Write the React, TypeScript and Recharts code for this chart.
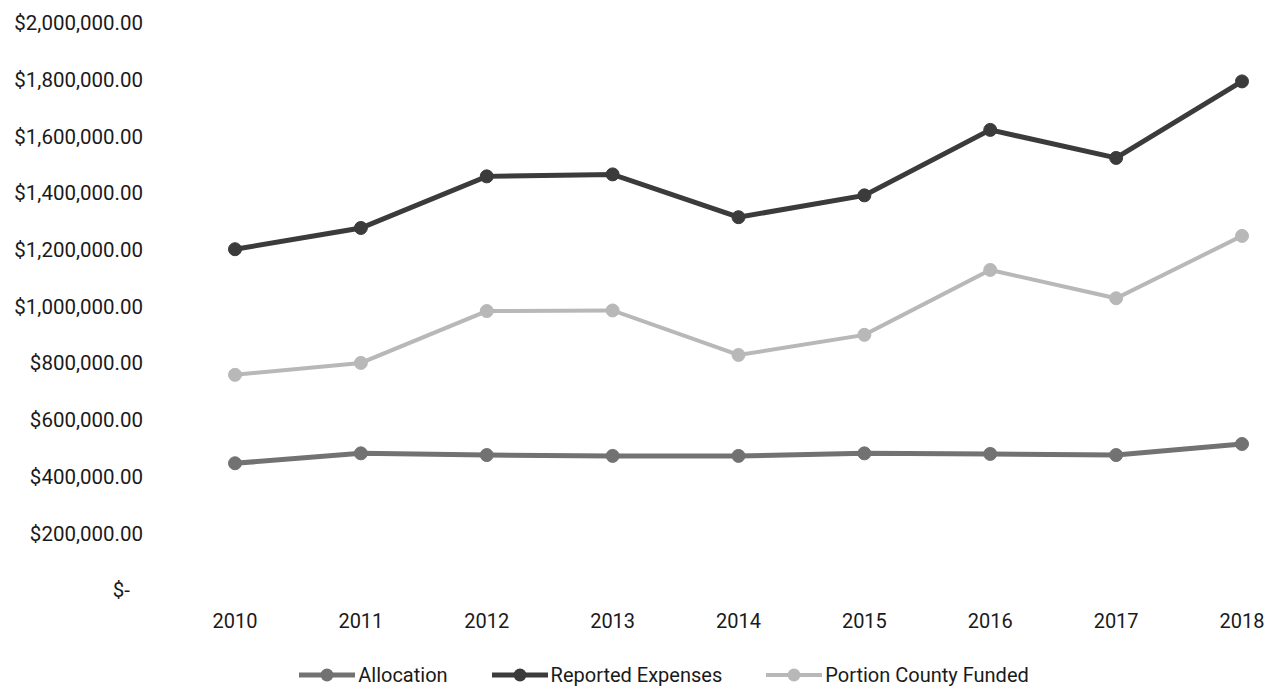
import { LineChart, Line, XAxis, YAxis, Legend } from 'recharts'

const years = ['2010', '2011', '2012', '2013', '2014', '2015', '2016', '2017', '2018']
const allocation = [447000, 482000, 476000, 473000, 473000, 482000, 480000, 476000, 515000]
const reportedExpenses = [1202000, 1277000, 1459000, 1466000, 1315000, 1392000, 1623000, 1524000, 1794000]
const portionCountyFunded = [759000, 801000, 984000, 986000, 829000, 900000, 1129000, 1029000, 1249000]
const yTicks = [0, 200000, 400000, 600000, 800000, 1000000, 1200000, 1400000, 1600000, 1800000, 2000000]

const FONT = 'Roboto, "Liberation Sans", sans-serif'

const series = [
  { key: 'allocation', label: 'Allocation', color: '#727272', width: 5 },
  { key: 'reported', label: 'Reported Expenses', color: '#3b3b3b', width: 5 },
  { key: 'portion', label: 'Portion County Funded', color: '#b8b8b8', width: 4 },
]

const data = years.map((year, i) => ({
  year,
  allocation: allocation[i],
  reported: reportedExpenses[i],
  portion: portionCountyFunded[i],
}))

const money = (v: number) =>
  '$' + v.toLocaleString('en-US', { minimumFractionDigits: 2, maximumFractionDigits: 2 })

function YTick(props: any) {
  const { x, y, payload } = props
  const zero = payload.value === 0
  return (
    <text
      x={zero ? x - 13 : x}
      y={y}
      dy="0.355em"
      textAnchor="end"
      fill="#1a1a1a"
      fontSize={20.5}
      fontFamily={FONT}
    >
      {zero ? '$-' : money(payload.value)}
    </text>
  )
}

function LegendContent() {
  return (
    <div
      style={{
        display: 'flex',
        justifyContent: 'center',
        alignItems: 'center',
        gap: 44,
        height: 30,
        paddingLeft: 54,
        fontFamily: FONT,
        fontSize: 20,
        color: '#1a1a1a',
      }}
    >
      {series.map((s) => (
        <div key={s.key} style={{ display: 'flex', alignItems: 'center', gap: 3 }}>
          <svg width={56} height={16}>
            <line x1={0} y1={8} x2={56} y2={8} stroke={s.color} strokeWidth={s.width} />
            <circle cx={28} cy={8} r={6.5} fill={s.color} />
          </svg>
          <span>{s.label}</span>
        </div>
      ))}
    </div>
  )
}

export default function App() {
  return (
    <div style={{ position: 'absolute', left: 0, top: 0, background: '#fff' }}>
      <LineChart
        width={1274}
        height={692}
        data={data}
        margin={{ top: 23, right: 0, bottom: 2, left: 0 }}
      >
        <XAxis
          dataKey="year"
          axisLine={false}
          tickLine={false}
          height={70}
          tickMargin={18}
          padding={{ left: 75, right: 32 }}
          tick={{ fill: '#1a1a1a', fontSize: 20, fontFamily: FONT }}
        />
        <YAxis
          domain={[0, 2000000]}
          ticks={yTicks}
          width={160}
          axisLine={false}
          tickLine={false}
          tickMargin={11}
          tick={<YTick />}
        />
        <Legend verticalAlign="bottom" content={<LegendContent />} />
        {series.map((s) => (
          <Line
            key={s.key}
            dataKey={s.key}
            name={s.label}
            stroke={s.color}
            strokeWidth={s.width}
            dot={{ r: 6.5, fill: s.color, stroke: s.color, strokeWidth: 1 }}
            activeDot={false}
            isAnimationActive={false}
          />
        ))}
      </LineChart>
    </div>
  )
}
